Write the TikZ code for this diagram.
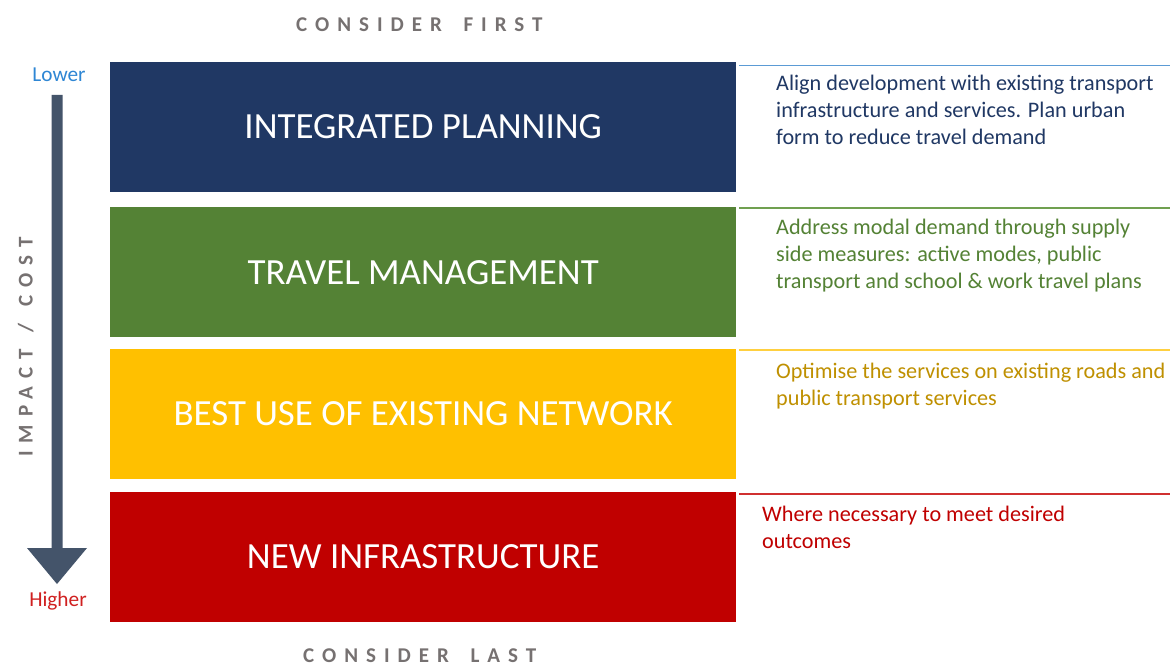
\documentclass[tikz,border=0pt]{standalone}
\usepackage{fontspec}
\setmainfont{Carlito}
\newfontfamily\spacedfont{Carlito}[LetterSpace=38]
\definecolor{cnavy}{HTML}{203864}
\definecolor{cgreen}{HTML}{548235}
\definecolor{cyellow}{HTML}{FFC000}
\definecolor{cred}{HTML}{C00000}
\definecolor{carrow}{HTML}{44546A}
\definecolor{cgray}{HTML}{767171}
\definecolor{clower}{HTML}{2E86D4}
\definecolor{chigher}{HTML}{D02020}
\definecolor{lblue}{HTML}{5B9BD5}
\definecolor{lgreen}{HTML}{70A050}
\definecolor{lyellow}{HTML}{FFD040}
\definecolor{lred}{HTML}{D03030}
\definecolor{tyellow}{HTML}{BF9000}
\begin{document}
\begin{tikzpicture}[x=1pt,y=-1pt,
  level/.style={draw=none, minimum width=626.5pt, minimum height=129.5pt, inner sep=0pt, text=white, font=\fontsize{36.9}{40}\selectfont},
  desc/.style={anchor=base west, inner sep=0pt, font=\fontsize{22.2}{27}\selectfont},
  rulel/.style={line width=1.8pt},
  heading/.style={text=cgray, inner sep=0pt, anchor=base west, font=\spacedfont\fontsize{21}{24}\selectfont\bfseries},
  endlabel/.style={inner sep=0pt, anchor=base, font=\fontsize{21.3}{24}\selectfont}]
\useasboundingbox (0,0) rectangle (1173,666);
\fill[white] (0,0) rectangle (1173,666);

% headings
\node[heading] (first) at (296,32) {CONSIDER\hspace{9pt} FIRST};
\node[heading] (last) at (303,662.5) {CONSIDER\hspace{9pt} LAST};
\node[heading, rotate=90] (impact) at (32.5,457) {IMPACT\hspace{4pt} /\hspace{4pt} COST};

% arrow
\fill[carrow] (51.5,95) -- (62.5,95) -- (62.5,548) -- (87,548) -- (57,584) -- (27,548) -- (51.5,548) -- cycle;
\node[endlabel, text=clower] (lower) at (59,82) {Lower};
\node[endlabel, text=chigher] (higher) at (58,606) {Higher};

% levels
\node[level, fill=cnavy] (b1) at (423.2,127) {INTEGRATED PLANNING};
\node[level, fill=cgreen] (b2) at (423.2,272.2) {TRAVEL MANAGEMENT};
\node[level, fill=cyellow] (b3) at (423.2,414) {BEST USE OF EXISTING NETWORK};
\node[level, fill=cred] (b4) at (423.2,557) {NEW INFRASTRUCTURE};

% rules
\coordinate (r1a) at (739,65.5); \coordinate (r1b) at (1170,65.5);
\coordinate (r2a) at (739,207.7); \coordinate (r2b) at (1170,207.7);
\coordinate (r3a) at (739,350); \coordinate (r3b) at (1170,350);
\coordinate (r4a) at (739,494); \coordinate (r4b) at (1170,494);
\draw[rulel, lblue] (r1a) -- (r1b);
\draw[rulel, lgreen] (r2a) -- (r2b);
\draw[rulel, lyellow] (r3a) -- (r3b);
\draw[rulel, lred] (r4a) -- (r4b);

% descriptions
\node[desc, text=cnavy] (d1) at (776,90.5) {\begin{tabular}[t]{@{}l@{}}Align development with existing transport\\infrastructure and services. Plan urban\\form to reduce travel demand\end{tabular}};
\node[desc, text=cgreen] (d2) at (776,234) {\begin{tabular}[t]{@{}l@{}}Address modal demand through supply\\side measures: active modes, public\\transport and school \& work travel plans\end{tabular}};
\node[desc, text=tyellow] (d3) at (776,378) {\begin{tabular}[t]{@{}l@{}}Optimise the services on existing roads and\\public transport services\end{tabular}};
\node[desc, text=cred] (d4) at (762,521.5) {\begin{tabular}[t]{@{}l@{}}Where necessary to meet desired\\outcomes\end{tabular}};
\end{tikzpicture}
\end{document}
